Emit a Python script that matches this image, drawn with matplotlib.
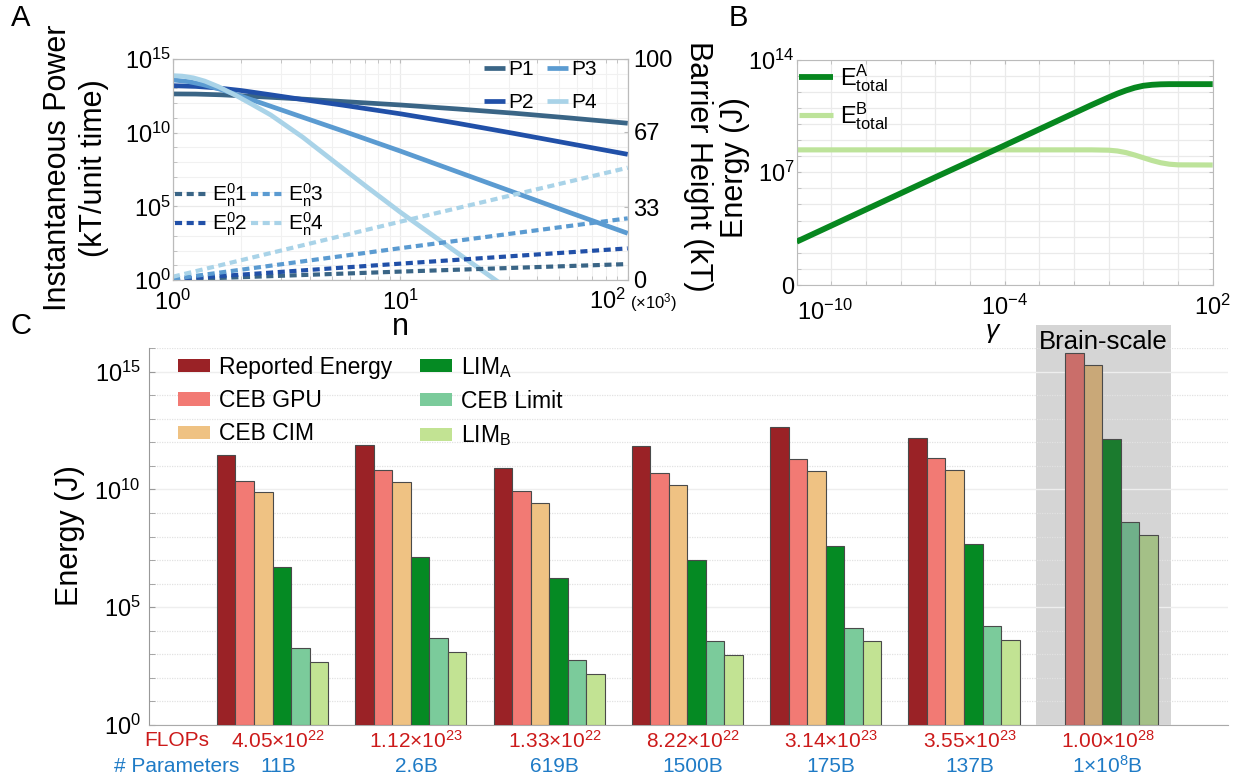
import numpy as np
import matplotlib
matplotlib.use('Agg')
import matplotlib.pyplot as plt
from matplotlib.patches import Rectangle
from matplotlib.ticker import FixedLocator, FixedFormatter, NullFormatter
import matplotlib.transforms as mtransforms

plt.rcParams['font.family'] = ['Liberation Sans', 'DejaVu Sans']
plt.rcParams['mathtext.fontset'] = 'custom'
plt.rcParams['mathtext.rm'] = 'Liberation Sans'
plt.rcParams['mathtext.it'] = 'Liberation Sans:italic'
plt.rcParams['mathtext.bf'] = 'Liberation Sans:bold'
plt.rcParams['mathtext.default'] = 'regular'

# ---------------- Panel A data (log10 n, log10 power) ----------------
p_labels = ['P1', 'P2', 'P3', 'P4']
p1_logn = [0, 0.1, 0.21, 0.32, 0.43, 0.57, 0.75, 1.0, 1.25, 1.5, 1.75, 2.0]
p1_logpow = [12.63, 12.62, 12.57, 12.49, 12.40, 12.28, 12.11, 11.88, 11.61, 11.32, 10.99, 10.64]
p2_logn = [0, 0.1, 0.2, 0.3, 0.43, 0.57, 0.75, 1.0, 1.25, 1.5, 1.75, 2.0]
p2_logpow = [13.19, 13.14, 13.03, 12.86, 12.57, 12.25, 11.86, 11.28, 10.64, 9.95, 9.24, 8.53]
p3_logn = [0, 0.07, 0.13, 0.2, 0.28, 0.4, 0.57, 0.75, 1.0, 1.25, 1.5, 1.75, 2.0]
p3_logpow = [13.58, 13.46, 13.27, 12.98, 12.58, 11.95, 11.05, 10.1, 8.75, 7.35, 5.95, 4.55, 3.17]
p4_logn = [0, 0.04, 0.09, 0.14, 0.2, 0.28, 0.35, 0.43, 0.57, 0.72, 0.85, 1.0, 1.2, 1.45]
p4_logpow = [13.87, 13.84, 13.72, 13.5, 13.12, 12.5, 11.9, 11.2, 9.7, 7.9, 6.35, 4.6, 2.4, -0.35]

e_labels = ['$E_n^0$1', '$E_n^0$2', '$E_n^0$3', '$E_n^0$4']
e_n = [1, 10, 100]
e1_barrier = [0.2, 3.8, 7.2]
e2_barrier = [0.3, 7.4, 14.3]
e3_barrier = [0.5, 14.4, 27.9]
e4_barrier = [1.5, 26.4, 50.8]

blue_colors = ['#3A6586', '#2150A8', '#5B9BD1', '#A9D3E8']

# ---------------- Panel B data (log10 gamma, log10 energy) ----------------
gamma_log_a = [-10, -8, -6, -4, -2, -1.5, -1, -0.75, -0.5, -0.25, 0, 0.25, 0.5, 0.75, 1, 2]
ea_log = [2.69, 4.69, 6.69, 8.67, 10.67, 11.17, 11.65, 11.88, 12.08, 12.25, 12.37, 12.43,
          12.46, 12.47, 12.47, 12.47]
gamma_log_b = [-10, -1.5, -1.0, -0.75, -0.5, -0.25, 0, 0.25, 0.5, 0.75, 1.0, 2]
eb_log = [8.39, 8.39, 8.37, 8.32, 8.22, 8.07, 7.90, 7.73, 7.59, 7.50, 7.46, 7.45]

# ---------------- Panel C data (log10 of energy, J) ----------------
series_names = ['Reported Energy', 'CEB GPU', 'CEB CIM', 'LIM$_A$', 'CEB Limit', 'LIM$_B$']
reported_log10 = [11.46, 11.89, 10.90, 11.82, 12.64, 12.17, None]
ceb_gpu_log10 = [10.37, 10.81, 9.91, 10.70, 11.28, 11.32, 15.78]
ceb_cim_log10 = [9.88, 10.33, 9.41, 10.20, 10.79, 10.83, 15.29]
lim_a_log10 = [6.72, 7.15, 6.23, 7.02, 7.61, 7.67, 12.13]
ceb_limit_log10 = [3.26, 3.68, 2.76, 3.57, 4.13, 4.19, 8.63]
lim_b_log10 = [2.66, 3.10, 2.18, 2.97, 3.57, 3.61, 8.05]
flops_labels = ['4.05×10$^{22}$', '1.12×10$^{23}$', '1.33×10$^{22}$', '8.22×10$^{22}$',
                '3.14×10$^{23}$', '3.55×10$^{23}$', '1.00×10$^{28}$']
param_labels = ['11B', '2.6B', '619B', '1500B', '175B', '137B', '1×10$^8$B']

bar_colors = ['#9A2226', '#F27A74', '#EFC283', '#058A23', '#7BCB9B', '#C2E393']
brain_colors = ['#9A2226', '#CA6E6A', '#C9A878', '#1B7B2E', '#70B08A', '#A4C087']

W, H = 1240, 782
fig = plt.figure(figsize=(W / 100, H / 100), dpi=100)


def fax(l, r, t, b):
    return fig.add_axes([l / W, 1 - b / H, (r - l) / W, (b - t) / H])


spine_col = '#BBBBBB'
grid_major = '#EAEAEA'
grid_minor = '#F1F1F1'

# ================= Panel A =================
axA = fax(173, 627.7, 59, 280)
axA.set_xscale('log')
axA.set_yscale('log')
axA.set_xlim(1, 100)
axA.set_ylim(1, 1e15)
p_data = [(p1_logn, p1_logpow), (p2_logn, p2_logpow), (p3_logn, p3_logpow), (p4_logn, p4_logpow)]
p_handles = []
for (ln, lp), c, lab in zip(p_data, blue_colors, p_labels):
    h, = axA.plot(10 ** np.array(ln), 10 ** np.array(lp), color=c, lw=3.4,
                  solid_capstyle='butt', solid_joinstyle='round', label=lab, zorder=3)
    p_handles.append(h)
axA.xaxis.set_major_locator(FixedLocator([1, 10, 100]))
axA.xaxis.set_minor_locator(FixedLocator([m * 10 ** k for k in range(2) for m in range(2, 10)]))
axA.xaxis.set_major_formatter(FixedFormatter(['$10^0$', '$10^1$', '']))
axA.xaxis.set_minor_formatter(NullFormatter())
axA.yaxis.set_major_locator(FixedLocator([1, 1e5, 1e10, 1e15]))
axA.yaxis.set_minor_locator(FixedLocator([10.0 ** k for k in range(16) if k % 5]))
axA.yaxis.set_major_formatter(FixedFormatter(['$10^0$', '$10^5$', '$10^{10}$', '$10^{15}$']))
axA.yaxis.set_minor_formatter(NullFormatter())
axA.grid(True, which='major', color=grid_major, lw=0.9)
axA.grid(True, which='minor', color=grid_minor, lw=0.8)
axA.set_axisbelow(True)
axA.tick_params(which='both', direction='in', length=3, color=spine_col, top=True, labelsize=17)
axA.tick_params(axis='y', pad=1.5)
axA.tick_params(axis='x', pad=7)
for s in axA.spines.values():
    s.set_color(spine_col)
axA.text(0.955, -0.096, '$10^2$', transform=axA.transAxes, ha='center', va='center', fontsize=17)
axA.text(1.005, -0.102, '(×10$^3$)', transform=axA.transAxes, ha='left', va='center', fontsize=12)

axA2 = axA.twinx()
axA2.set_ylim(0, 100)
axA2.set_yticks([0, 33, 67, 100])
axA2.tick_params(direction='in', length=3, color=spine_col, labelsize=17, pad=4)
for s in axA2.spines.values():
    s.set_color(spine_col)
e_data = [e1_barrier, e2_barrier, e3_barrier, e4_barrier]
e_handles = []
for ev, c, lab in zip(e_data, blue_colors, e_labels):
    h, = axA2.plot(e_n, ev, color=c, lw=3.0, ls=(0, (1.7, 1.1)), dash_capstyle='butt', label=lab)
    e_handles.append(h)

legP = axA2.legend(handles=p_handles, ncol=2, loc='upper right', bbox_to_anchor=(0.9325, 0.995),
                   frameon=False, fontsize=15, handlelength=1.0, handletextpad=0.15,
                   columnspacing=0.65, labelspacing=0.68, borderpad=0, borderaxespad=0)
axA2.add_artist(legP)
axA2.legend(handles=e_handles, ncol=2, loc='center left', bbox_to_anchor=(0.005, 0.318),
            frameon=False, fontsize=15, handlelength=1.5, handletextpad=0.25,
            columnspacing=0.2, labelspacing=0.1, borderpad=0, borderaxespad=0)

fig.text(76 / W, 1 - 168 / H, 'Instantaneous Power\n(kT/unit time)', rotation=90,
         ha='center', va='center', fontsize=22, linespacing=1.3)
fig.text(698 / W, 1 - 166 / H, 'Barrier Height (kT)', rotation=270,
         ha='center', va='center', fontsize=22)
fig.text(400 / W, 1 - 327 / H, 'n', ha='center', va='center', fontsize=22)
fig.text(21 / W, 1 - 18 / H, 'A', ha='center', va='center', fontsize=21)

# ================= Panel B =================
axB = fax(796.7, 1212.7, 59.5, 285)
axB.set_xscale('log')
axB.set_yscale('log')
axB.set_xlim(1e-10, 1e2)
axB.set_ylim(1, 1e14)
lA, = axB.plot(10 ** np.array(gamma_log_a, dtype=float), 10 ** np.array(ea_log), color='#07871F',
               lw=4.2, solid_capstyle='butt', solid_joinstyle='round', label='$E_{total}^{A}$', zorder=3)
lB, = axB.plot(10 ** np.array(gamma_log_b, dtype=float), 10 ** np.array(eb_log), color='#BDE39A',
               lw=3.7, solid_capstyle='butt', solid_joinstyle='round', label='$E_{total}^{B}$', zorder=2)
axB.xaxis.set_major_locator(FixedLocator([1e-10, 1e-4, 1e2]))
axB.xaxis.set_minor_locator(FixedLocator([10.0 ** k for k in range(-10, 3) if k not in (-10, -4, 2)]))
axB.xaxis.set_major_formatter(FixedFormatter(['', '$10^{-4}$', '$10^2$']))
axB.xaxis.set_minor_formatter(NullFormatter())
axB.yaxis.set_major_locator(FixedLocator([1, 1e7, 1e14]))
axB.yaxis.set_minor_locator(FixedLocator([10.0 ** k for k in range(15) if k not in (0, 7, 14)]))
axB.yaxis.set_major_formatter(FixedFormatter(['0', '$10^7$', '$10^{14}$']))
axB.yaxis.set_minor_formatter(NullFormatter())
axB.grid(True, which='both', color=grid_major, lw=0.9)
axB.set_axisbelow(True)
axB.tick_params(which='both', direction='in', length=3, color=spine_col, top=True, right=True, labelsize=17)
axB.tick_params(axis='y', pad=1.5)
axB.tick_params(axis='x', pad=7)
for s in axB.spines.values():
    s.set_color(spine_col)
axB.text(0.0, -0.12, '$10^{-10}$', transform=axB.transAxes, ha='left', va='center', fontsize=17)
axB.legend(handles=[lA, lB], loc='center left', bbox_to_anchor=(0.005, 0.834), frameon=False,
           fontsize=17, handlelength=1.45, handletextpad=0.3, labelspacing=0.25,
           borderpad=0, borderaxespad=0)
fig.text(735 / W, 1 - 168 / H, 'Energy (J)', rotation=90, ha='center', va='center', fontsize=22)
fig.text(993 / W, 1 - 333 / H, r'$\mathit{\gamma}$', ha='center', va='center', fontsize=19)
fig.text(738 / W, 1 - 18 / H, 'B', ha='center', va='center', fontsize=21)

# ================= Panel C =================
axC = fax(149, 1228, 348, 725)
axC.set_yscale('log')
axC.set_ylim(1, 1e16)
axC.set_xlim(-0.893, 6.909)
groups = np.arange(len(flops_labels))
bw = 0.134
all_series = [reported_log10, ceb_gpu_log10, ceb_cim_log10, lim_a_log10, ceb_limit_log10, lim_b_log10]
handles_c = []
for k, (vals, name) in enumerate(zip(all_series, series_names)):
    xs, hs, cs = [], [], []
    for i, v in enumerate(vals):
        if v is None:
            continue
        xs.append(groups[i] + (k - 2.5) * bw)
        hs.append(10 ** v - 1)
        cs.append(brain_colors[k] if i == len(vals) - 1 else bar_colors[k])
    axC.bar(xs, hs, width=bw, bottom=1, color=cs, edgecolor='#4A4A4A', linewidth=0.8, zorder=3)
    handles_c.append(Rectangle((0, 0), 1, 1, facecolor=bar_colors[k], edgecolor='none', label=name))

blend = mtransforms.blended_transform_factory(axC.transData, axC.transAxes)
axC.add_patch(Rectangle((5.52, 0), 0.98, 1.061, transform=blend, facecolor='#D5D5D5',
                        edgecolor='none', zorder=0.2, clip_on=False))
axC.text(6.01, 1.016, 'Brain-scale', transform=blend, ha='center', va='center', fontsize=18.5)

axC.yaxis.set_major_locator(FixedLocator([1, 1e5, 1e10, 1e15]))
axC.yaxis.set_minor_locator(FixedLocator([10.0 ** k for k in range(17) if k % 5]))
axC.yaxis.set_major_formatter(FixedFormatter(['$10^0$', '$10^5$', '$10^{10}$', '$10^{15}$']))
axC.yaxis.set_minor_formatter(NullFormatter())
axC.grid(True, axis='y', which='major', color='#EEEEEE', lw=1.0, zorder=0.5)
axC.grid(True, axis='y', which='minor', color='#E2E2E2', lw=0.9, ls=(0, (1, 1)), zorder=0.5)
axC.set_axisbelow(True)
axC.set_xticks([])
axC.tick_params(axis='y', which='both', direction='in', length=4, color='#999999', labelsize=17, pad=6)
axC.spines['top'].set_visible(False)
axC.spines['right'].set_visible(False)
axC.spines['left'].set_color('#999999')
axC.spines['bottom'].set_color('#AAAAAA')

axC.legend(handles=handles_c, ncol=2, loc='center left', bbox_to_anchor=(0.027, 0.858),
           frameon=False, fontsize=16.5, handlelength=1.4, handleheight=0.5, handletextpad=0.4,
           columnspacing=1.2, labelspacing=0.45, borderpad=0, borderaxespad=0)

label_shift = 0.04
for i in groups:
    axC.text(i + label_shift, -0.042, flops_labels[i], transform=blend, ha='center', va='center',
             fontsize=15, color='#CC1A1A')
    axC.text(i + label_shift, -0.109, param_labels[i], transform=blend, ha='center', va='center',
             fontsize=15, color='#1F7BC6')
axC.text(-0.69, -0.042, 'FLOPs', transform=blend, ha='center', va='center', fontsize=15, color='#CC1A1A')
axC.text(-0.69, -0.109, '# Parameters', transform=blend, ha='center', va='center', fontsize=15,
         color='#1F7BC6')

fig.text(70 / W, 1 - 536 / H, 'Energy (J)', rotation=90, ha='center', va='center', fontsize=22)
fig.text(21 / W, 1 - 326 / H, 'C', ha='center', va='center', fontsize=21)

fig.savefig('out.png', dpi=100)
